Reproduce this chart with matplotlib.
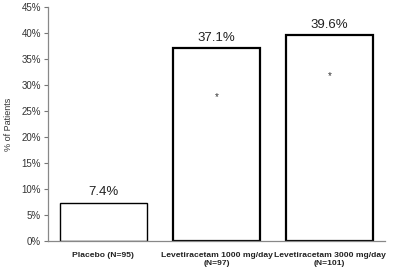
import matplotlib.pyplot as plt

plt.rcParams["font.family"] = ["Liberation Sans", "DejaVu Sans"]

categories = ["Placebo (N=95)", "Levetiracetam 1000 mg/day\n(N=97)", "Levetiracetam 3000 mg/day\n(N=101)"]
values = [7.4, 37.1, 39.6]
labels = ["7.4%", "37.1%", "39.6%"]
star_y = [None, 27.7, 31.7]
yticks = list(range(0, 50, 5))

fig = plt.figure(figsize=(4, 2.75), dpi=100)
ax = fig.add_axes([0.12, 0.1236, 0.8425, 0.851])

x = list(range(len(categories)))
widths = [1.0, 1.6, 1.6]
ax.bar(x, values, width=0.77, color="white", edgecolor="black", zorder=2)
for patch, lw in zip(ax.patches, widths):
    patch.set_linewidth(lw)

for xi, v, lab in zip(x, values, labels):
    ax.text(xi, v + 0.8, lab, ha="center", va="bottom", fontsize=9.5, color="#222222")

for xi, s in zip(x, star_y):
    if s is not None:
        ax.text(xi, s, "*", ha="center", va="center", fontsize=7, color="#333333")

ax.set_xlim(-0.49, 2.49)
ax.set_ylim(0, 45)
ax.set_yticks(yticks)
ax.set_yticklabels([f"{t}%" for t in yticks], fontsize=7, color="#333333")
ax.set_xticks(x)
ax.set_xticklabels(categories, fontsize=6.1, fontweight="bold", color="#222222",
                   linespacing=1.2)
ax.tick_params(axis="x", length=0, pad=8)
ax.tick_params(axis="y", length=3, width=0.8, color="#777777", pad=2)
ax.set_ylabel("% of Patients", fontsize=6.5, color="#333333", labelpad=6)

for side in ["top", "right"]:
    ax.spines[side].set_visible(False)
for side in ["left", "bottom"]:
    ax.spines[side].set_color("#888888")
    ax.spines[side].set_linewidth(0.9)

fig.savefig("out.png", dpi=100)
